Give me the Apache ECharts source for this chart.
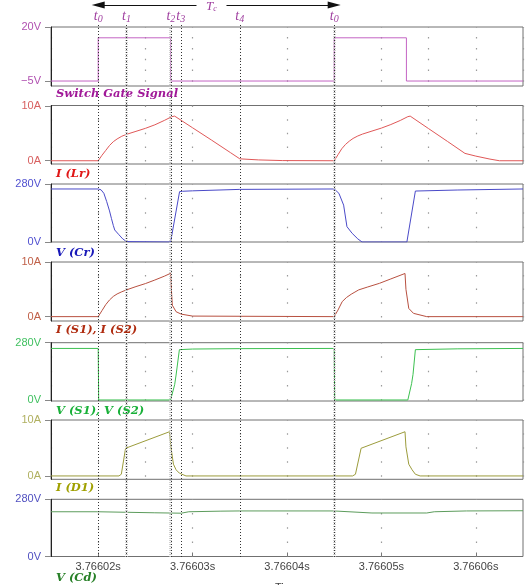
<!DOCTYPE html>
<html>
<head>
<meta charset="utf-8">
<script src="https://cdn.jsdelivr.net/npm/echarts@6/dist/echarts.min.js"></script>
<style>
  html, body { margin: 0; padding: 0; background: #fff; }
  #c { width: 525px; height: 585px; }
</style>
</head>
<body>
<div id="c"></div>
<script>
// Time values are in microseconds after 3.766 s
const timeMin = 15, timeMax = 65;
const timeTicks = [20, 30, 40, 50, 60];

// Switching instants t0 .. t4, t0 of next period
const markerT = [20, 23, 27.7, 28.75, 35, 45];
const markerSub = ['0', '1', '2', '3', '4', '0'];
const periodStart = 20, periodEnd = 45;

// Switch gate signal (V)
const gateT = [15, 20, 20, 27.67, 27.67, 45, 45, 52.65, 52.65, 65];
const gateV = [-5, -5, 15, 15, -5, -5, 15, 15, -5, -5];

// I(Lr) (A)
const lrT = [15, 20, 20.4, 20.8, 21.2, 21.6, 22.0, 22.5, 23, 24, 25, 26, 27, 27.8, 28.1, 30, 32, 34, 35, 37, 39.5,
             45, 45.4, 45.8, 46.2, 46.6, 47, 47.5, 48, 49, 50, 51, 52, 52.8, 53.05, 55, 57, 58.85, 60, 61.5, 62.5, 65];
const lrV = [0, 0, 1.0, 1.9, 2.8, 3.5, 4.0, 4.5, 4.85, 5.4, 5.95, 6.6, 7.4, 8.1, 8.2, 6.05, 3.8, 1.5, 0.35, 0.15, 0.03,
             0, 1.1, 2.2, 3.0, 3.6, 4.1, 4.55, 4.9, 5.45, 6.0, 6.65, 7.4, 8.1, 8.2, 5.9, 3.55, 1.35, 0.85, 0.3, 0.0, 0];

// V(Cr) (V)
const crT = [15, 20, 20.3, 20.6, 20.9, 21.2, 21.4, 21.6, 21.75, 22.2, 22.6, 23.0, 23.1, 27.67, 28.62, 28.95, 30, 35,
             45, 45.5, 46.0, 46.35, 46.9, 47.5, 47.95, 52.7, 53.6, 58.1, 65];
const crV = [256, 256, 252, 235, 195, 150, 114, 80, 58, 35, 15, 2, 0, 0, 243, 245, 247, 254,
             256, 235, 178, 74, 42, 15, 0, 0, 246, 251, 256];

// I(S1), I(S2) (A)
const s1T = [15, 20, 20.4, 20.8, 21.2, 21.6, 22.0, 22.5, 23, 24, 25, 26, 27, 27.67, 27.75, 27.85, 28.25, 28.8, 30,
             45, 45.4, 45.85, 46.3, 46.8, 47.2, 47.6, 48.5, 49.8, 51, 52.5, 52.6, 52.9, 53.4, 54.8, 65];
const s1V = [0, 0, 1.1, 2.2, 3.05, 3.7, 4.15, 4.55, 4.9, 5.5, 6.05, 6.7, 7.4, 7.93, 5.0, 2.1, 0.9, 0.45, 0.1,
             0, 1.2, 2.75, 3.5, 4.1, 4.5, 4.9, 5.4, 6.1, 6.9, 7.9, 5.0, 1.5, 0.6, 0.0, 0];

// V(S1), V(S2) (V)
const vsT = [15, 20, 20.05, 27.67, 28.1, 28.25, 28.6, 30, 35, 45, 45.05, 52.8, 53.2, 53.35, 53.6, 58.1, 65];
const vsV = [252, 252, 0, 0, 75, 122, 246, 249, 251, 252, 0, 0, 80, 125, 246, 250, 252];

// I(D1) (A)
const d1T = [15, 22.2, 22.45, 22.9, 27.55, 27.7, 27.97, 28.25, 28.6, 29.3,
             45, 46.95, 47.25, 47.85, 52.5, 52.6, 52.9, 53.25, 53.6, 54.1, 65];
const d1V = [0, 0, 0.3, 4.95, 7.9, 5.2, 2.1, 1.1, 0.5, 0,
             0, 0, 0.3, 4.95, 7.9, 5.2, 2.1, 1.1, 0.3, 0, 0];

// V(Cd) (V)
const cdT = [15, 19.95, 20.1, 26, 28.8, 29.6, 33, 35, 44.95, 45.15, 49, 54.8, 55.6, 59, 65];
const cdV = [219, 219, 215, 214, 212, 219, 222, 223, 223, 218, 213, 213, 219, 223, 224];

// Axis end labels
const gateTicks = [-5, 20];
const ampTicks = [0, 10];
const voltTicks = [0, 280];

const pairs = (ts, vs) => ts.map((t, i) => [t, vs[i]]);
const fmtTime = v => (3.766 + v * 1e-6).toFixed(5) + 's';
const fmtLevel = (v, unit) => (v < 0 ? '\u2212' + (-v) : v) + unit;

const panels = [
  { name: 'Switch Gate Signal', t: gateT, v: gateV, ticks: gateTicks, unit: 'V',
    line: '#c464c4', axisColor: '#b050b0', nameColor: '#a01898',
    top: 27, height: 59, min: -7.3, max: 20, step: 5, labelY: 93 },
  { name: 'I (Lr)', t: lrT, v: lrV, ticks: ampTicks, unit: 'A',
    line: '#e05858', axisColor: '#d86060', nameColor: '#e01818',
    top: 105.5, height: 58.5, min: -0.6, max: 10.15, step: 2.5, labelY: 173 },
  { name: 'V (Cr)', t: crT, v: crV, ticks: voltTicks, unit: 'V',
    line: '#4a4ac8', axisColor: '#5050d0', nameColor: '#1818b8',
    top: 184, height: 58, min: 0, max: 280, step: 70, labelY: 252 },
  { name: 'I (S1), I (S2)', t: s1T, v: s1V, ticks: ampTicks, unit: 'A',
    line: '#b85040', axisColor: '#c06048', nameColor: '#b02c10',
    top: 262, height: 59, min: -0.8, max: 10, step: 2.5, labelY: 329 },
  { name: 'V (S1), V (S2)', t: vsT, v: vsV, ticks: voltTicks, unit: 'V',
    line: '#3cc050', axisColor: '#40c060', nameColor: '#18b038',
    top: 342.7, height: 58.3, min: -5, max: 280, step: 70, labelY: 410 },
  { name: 'I (D1)', t: d1T, v: d1V, ticks: ampTicks, unit: 'A',
    line: '#9c9c3c', axisColor: '#b0b060', nameColor: '#a0a000',
    top: 420, height: 59.3, min: -0.6, max: 10, step: 2.5, labelY: 487 },
  { name: 'V (Cd)', t: cdT, v: cdV, ticks: voltTicks, unit: 'V',
    line: '#5c9c5c', axisColor: '#5050c0', nameColor: '#288028',
    top: 499.3, height: 57.2, min: 0, max: 280, step: 70, labelY: 577 }
];

const sans = '"Liberation Sans", Arial, sans-serif';
const serif = '"Liberation Serif", "DejaVu Serif", serif';
const wideSerif = '"DejaVu Serif", "Liberation Serif", serif';
const tagColor = '#a040a0';

const grid = [], xAxis = [], yAxis = [], series = [], title = [];

panels.forEach((p, i) => {
  const last = i === panels.length - 1;
  // dotted grid: dots on each 5 us column at every row value
  const pxPer = p.height / (p.max - p.min);
  const rowGap = p.step * pxPer;
  const topRow = Math.floor(p.max / p.step) * p.step;
  const firstDot = (p.max - topRow) * pxPer;
  const dashOffset = (rowGap - firstDot + 0.7) % rowGap;

  grid.push({ left: 51, right: 2, top: p.top, height: p.height, show: true,
              borderColor: '#707070', borderWidth: 1, outerBoundsMode: 'none' });
  xAxis.push({
    type: 'value', gridIndex: i, min: timeMin, max: timeMax, interval: 5,
    axisLine: { show: false },
    axisTick: last ? { show: true, inside: true, length: 4, customValues: timeTicks,
                       lineStyle: { color: '#777' } } : { show: false },
    axisLabel: last ? { show: true, customValues: timeTicks, formatter: fmtTime,
                        color: '#444', fontSize: 11, fontFamily: sans, margin: 5 } : { show: false },
    splitLine: { show: true, lineStyle: { color: '#9a9a9a', width: 1.2, type: [1.5, rowGap - 1.5], dashOffset } },
    name: last ? 'Time' : '', nameLocation: 'middle', nameGap: 26,
    nameTextStyle: { color: '#444', fontSize: 11, fontFamily: sans }
  });
  yAxis.push({
    type: 'value', gridIndex: i, min: p.min, max: p.max,
    axisLine: { show: true, lineStyle: { color: '#222', width: 1 } },
    axisTick: { show: true, customValues: p.ticks, length: 6, lineStyle: { color: '#888' } },
    axisLabel: { show: true, customValues: p.ticks, formatter: v => fmtLevel(v, p.unit),
                 color: p.axisColor, fontSize: 11, fontFamily: sans, margin: 10 },
    splitLine: { show: false }
  });
  series.push({
    type: 'line', xAxisIndex: i, yAxisIndex: i, data: pairs(p.t, p.v),
    showSymbol: false, symbol: 'none', silent: true, z: 3,
    lineStyle: { color: p.line, width: 1 }
  });
  title.push({
    text: p.name, left: 56, top: p.labelY - 5, padding: 0,
    textStyle: { fontFamily: wideSerif, fontStyle: 'italic', fontWeight: 'bold', fontSize: 11.5, color: p.nameColor }
  });
});

// overlay grid spanning all panels for the switching-instant markers
const ov = panels.length;
grid.push({ left: 51, right: 2, top: 25, bottom: 28, show: false, outerBoundsMode: 'none' });
xAxis.push({ type: 'value', gridIndex: ov, min: timeMin, max: timeMax, show: false });
yAxis.push({ type: 'value', gridIndex: ov, min: 0, max: 1, show: false });

const tagRich = {
  t: { fontFamily: serif, fontStyle: 'italic', fontSize: 14, color: tagColor },
  s: { fontFamily: serif, fontStyle: 'italic', fontSize: 10, color: tagColor, padding: [5, 0, 0, 0] }
};

series.push({
  type: 'line', xAxisIndex: ov, yAxisIndex: ov, data: [], silent: true, z: 4,
  markLine: {
    silent: true, symbol: ['none', 'none'], animation: false,
    lineStyle: { color: '#c4c4c4', width: 2.5, type: [1, 1] },
    label: { show: false },
    data: [markerT[1], markerT[2] - 0.12, markerT[5]].map(t => ({ xAxis: t }))
  }
});
series.push({
  type: 'line', xAxisIndex: ov, yAxisIndex: ov, data: [], silent: true, z: 5,
  markLine: {
    silent: true, symbol: ['none', 'none'], animation: false,
    lineStyle: { color: '#333', width: 1, type: [1, 2] },
    label: { show: true, position: 'end', distance: 1, rich: tagRich },
    data: markerT.map((t, i) => ({ xAxis: t, label: { formatter: '{t|t}{s|' + markerSub[i] + '}' } }))
  }
});

// period arrow Tc
const tc = panels.length + 1;
grid.push({ left: 51, right: 2, top: 0, height: 10, show: false, outerBoundsMode: 'none' });
xAxis.push({ type: 'value', gridIndex: tc, min: timeMin, max: timeMax, show: false });
yAxis.push({ type: 'value', gridIndex: tc, min: 0, max: 1, show: false });
series.push({
  type: 'line', xAxisIndex: tc, yAxisIndex: tc, data: [], silent: true, z: 5,
  markLine: {
    silent: true, symbol: ['triangle', 'triangle'], symbolSize: [7, 13], animation: false,
    lineStyle: { color: '#111', width: 1, type: 'solid' },
    itemStyle: { color: '#111' },
    label: { show: false },
    data: [[{ coord: [periodStart, 0.5] }, { coord: [periodEnd, 0.5] }]]
  },
  markPoint: {
    silent: true, animation: false, symbol: 'rect', symbolSize: [30, 10],
    itemStyle: { color: '#fff' },
    label: {
      show: true, position: 'inside', formatter: '{t|T}{s|c}', offset: [0, 2],
      rich: {
        t: { fontFamily: serif, fontStyle: 'italic', fontSize: 13, color: tagColor },
        s: { fontFamily: serif, fontStyle: 'italic', fontSize: 8, color: tagColor, padding: [4, 0, 0, 0] }
      }
    },
    data: [{ coord: [periodStart + (periodEnd - periodStart) * 0.48, 0.5] }]
  }
});

const chart = echarts.init(document.getElementById('c'), null, { renderer: 'canvas' });
chart.setOption({
  animation: false,
  backgroundColor: '#fff',
  title, grid, xAxis, yAxis, series
});
</script>
</body>
</html>
